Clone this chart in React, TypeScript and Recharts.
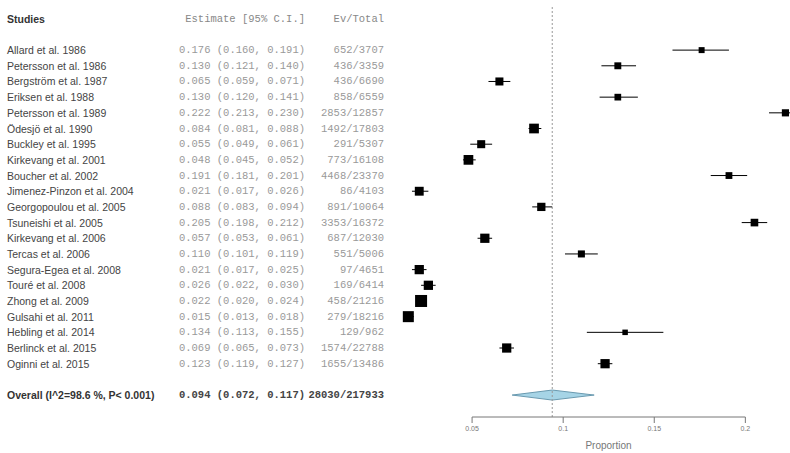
import React from 'react';
import { ComposedChart, Scatter, ErrorBar, XAxis, YAxis, ReferenceLine, Area, Label } from 'recharts';

const studies = [
  'Allard et al. 1986', 'Petersson et al. 1986', 'Bergström et al. 1987', 'Eriksen et al. 1988',
  'Petersson et al. 1989', 'Ödesjö et al. 1990', 'Buckley et al. 1995', 'Kirkevang et al. 2001',
  'Boucher et al. 2002', 'Jimenez-Pinzon et al. 2004', 'Georgopoulou et al. 2005', 'Tsuneishi et al. 2005',
  'Kirkevang et al. 2006', 'Tercas et al. 2006', 'Segura-Egea et al. 2008', 'Touré et al. 2008',
  'Zhong et al. 2009', 'Gulsahi et al. 2011', 'Hebling et al. 2014', 'Berlinck et al. 2015', 'Oginni et al. 2015',
];
const estimates = [0.176, 0.130, 0.065, 0.130, 0.222, 0.084, 0.055, 0.048, 0.191, 0.021, 0.088, 0.205, 0.057, 0.110, 0.021, 0.026, 0.022, 0.015, 0.134, 0.069, 0.123];
const lowers = [0.160, 0.121, 0.059, 0.120, 0.213, 0.081, 0.049, 0.045, 0.181, 0.017, 0.083, 0.198, 0.053, 0.101, 0.017, 0.022, 0.020, 0.013, 0.113, 0.065, 0.119];
const uppers = [0.191, 0.140, 0.071, 0.141, 0.230, 0.088, 0.061, 0.052, 0.201, 0.026, 0.094, 0.212, 0.061, 0.119, 0.025, 0.030, 0.024, 0.018, 0.155, 0.073, 0.127];
const events = ['652/3707', '436/3359', '436/6690', '858/6559', '2853/12857', '1492/17803', '291/5307', '773/16108', '4468/23370', '86/4103', '891/10064', '3353/16372', '687/12030', '551/5006', '97/4651', '169/6414', '458/21216', '279/18216', '129/962', '1574/22788', '1655/13486'];

const overallLabel = 'Overall (I^2=98.6 %, P< 0.001)';
const overallEstimate = 0.094;
const overallLower = 0.072;
const overallUpper = 0.117;
const overallEvents = '28030/217933';

const headerStudy = 'Studies';
const headerEstimate = 'Estimate [95% C.I.]';
const headerEvents = 'Ev/Total';

const xTicks = [0.05, 0.1, 0.15, 0.2];
const xLabel = 'Proportion';

const fmt = (v: number) => v.toFixed(3);

const widths = estimates.map((_, i) => uppers[i] - lowers[i]);
const prec = widths.map((w) => Math.sqrt(1 / w));
const pMin = Math.min(...prec);
const pMax = Math.max(...prec);

const points = estimates.map((e, i) => ({
  x: e,
  y: i + 1,
  errX: [e - lowers[i], uppers[i] - e],
  side: 5.5 + ((prec[i] - pMin) / (pMax - pMin)) * 6.5,
}));

const OVERALL_ROW = studies.length + 2;
const HEADER_ROW = -1;

const diamond = [
  { x: overallLower, r: [OVERALL_ROW, OVERALL_ROW] },
  { x: overallEstimate, r: [OVERALL_ROW - 0.32, OVERALL_ROW + 0.32] },
  { x: overallUpper, r: [OVERALL_ROW, OVERALL_ROW] },
];

const rowTicks = [HEADER_ROW, ...studies.map((_, i) => i + 1), OVERALL_ROW];

const NAME_X = 7;
const EST_X = 305;
const EV_X = 384;

const RowTick = (props: any) => {
  const { y, payload } = props;
  const k = payload.value;
  const mono = '"Liberation Mono", "DejaVu Sans Mono", monospace';
  const sans = '"Liberation Sans", Arial, sans-serif';
  if (k === HEADER_ROW) {
    return (
      <g>
        <text x={NAME_X} y={y} dominantBaseline="central" fontFamily={sans} fontSize={10.5} fontWeight="bold" fill="#333">{headerStudy}</text>
        <text x={EST_X} y={y} dominantBaseline="central" textAnchor="end" fontFamily={mono} fontSize={10.5} fill="#888" xmlSpace="preserve">{headerEstimate}</text>
        <text x={EV_X} y={y} dominantBaseline="central" textAnchor="end" fontFamily={mono} fontSize={10.5} fill="#888">{headerEvents}</text>
      </g>
    );
  }
  if (k === OVERALL_ROW) {
    return (
      <g>
        <text x={NAME_X} y={y} dominantBaseline="central" fontFamily={sans} fontSize={10.5} fontWeight="bold" fill="#333">{overallLabel}</text>
        <text x={EST_X} y={y} dominantBaseline="central" textAnchor="end" fontFamily={mono} fontSize={10.5} fontWeight="bold" fill="#444">{`${fmt(overallEstimate)} (${fmt(overallLower)}, ${fmt(overallUpper)})`}</text>
        <text x={EV_X} y={y} dominantBaseline="central" textAnchor="end" fontFamily={mono} fontSize={10.5} fontWeight="bold" fill="#444">{overallEvents}</text>
      </g>
    );
  }
  const i = k - 1;
  if (i < 0 || i >= studies.length) return <g />;
  return (
    <g>
      <text x={NAME_X} y={y} dominantBaseline="central" fontFamily={sans} fontSize={10.5} fill="#444">{studies[i]}</text>
      <text x={EST_X} y={y} dominantBaseline="central" textAnchor="end" fontFamily={mono} fontSize={10.5} fill="#999">{`${fmt(estimates[i])} (${fmt(lowers[i])}, ${fmt(uppers[i])})`}</text>
      <text x={EV_X} y={y} dominantBaseline="central" textAnchor="end" fontFamily={mono} fontSize={10.5} fill="#999">{events[i]}</text>
    </g>
  );
};

const Box = (props: any) => {
  const { cx, cy, payload } = props;
  const s = payload.side;
  return <rect x={cx - s / 2} y={cy - s / 2} width={s} height={s} fill="#000" />;
};

const Y_MIN = -1.75;
const Y_MAX = 24.4;

export default function App() {
  return (
    <div style={{ position: 'absolute', left: 0, top: 0, width: 790, height: 453, overflow: 'hidden', background: '#fff' }}>
      <ComposedChart width={800} height={453} margin={{ top: 7, right: 0, bottom: 0, left: 0 }}>
        <XAxis
          type="number"
          dataKey="x"
          domain={[0, 0.23]}
          allowDataOverflow
          ticks={xTicks}
          interval={0}
          axisLine={false}
          tickLine={{ stroke: '#777' }}
          tickSize={6}
          tickMargin={3}
          height={36}
          tick={{ fontSize: 7, fill: '#777', fontFamily: '"Liberation Sans", Arial, sans-serif' }}
          tickFormatter={(v: number) => String(v)}
        >
          <Label value={xLabel} position="insideBottom" offset={4} dx={18} style={{ fontSize: 10, fill: '#777', fontFamily: '"Liberation Sans", Arial, sans-serif' }} />
        </XAxis>
        <YAxis
          type="number"
          dataKey="y"
          domain={[Y_MIN, Y_MAX]}
          allowDataOverflow
          reversed
          ticks={rowTicks}
          interval={0}
          width={381}
          axisLine={false}
          tickLine={false}
          tick={<RowTick />}
        />
        <ReferenceLine x={overallEstimate} stroke="#999" strokeDasharray="2 2" ifOverflow="visible" />
        <ReferenceLine
          segment={[{ x: xTicks[0], y: Y_MAX }, { x: xTicks[xTicks.length - 1], y: Y_MAX }]}
          stroke="#777"
          ifOverflow="visible"
        />
        <Area
          data={diamond}
          dataKey="r"
          type="linear"
          fill="#a6d4e6"
          fillOpacity={1}
          stroke="#6a9ab0"
          strokeWidth={1}
          isAnimationActive={false}
          dot={false}
          activeDot={false}
        />
        <Scatter data={points} shape={<Box />} isAnimationActive={false}>
          <ErrorBar dataKey="errX" direction="x" width={0} stroke="#000" strokeWidth={1} />
        </Scatter>
      </ComposedChart>
    </div>
  );
}
